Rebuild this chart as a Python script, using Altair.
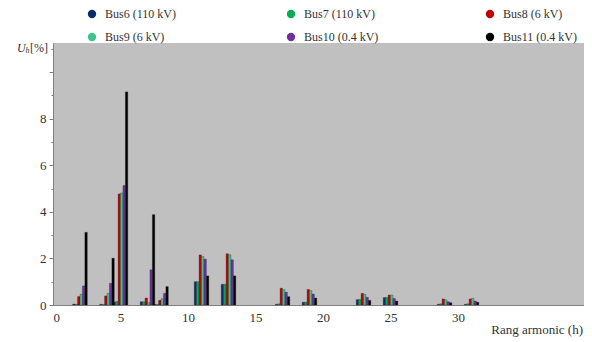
import altair as alt
import pandas as pd

harmonics = [2, 4, 5, 7, 8, 11, 13, 17, 19, 23, 25, 29, 31]
series = ["Bus6 (110 kV)", "Bus7 (110 kV)", "Bus8 (6 kV)",
          "Bus9 (6 kV)", "Bus10 (0.4 kV)", "Bus11 (0.4 kV)"]
colors = ["#0d2a6b", "#00b050", "#c00000", "#3cc48f", "#7030a0", "#000000"]

bus6 = [0.04, 0.03, 0.12, 0.14, 0.02, 1.00, 0.89, 0.03, 0.12, 0.23, 0.32, 0.03, 0.03]
bus7 = [0.03, 0.02, 0.15, 0.14, 0.02, 1.00, 0.89, 0.05, 0.12, 0.24, 0.32, 0.05, 0.05]
bus8 = [0.36, 0.39, 4.77, 0.30, 0.20, 2.15, 2.20, 0.72, 0.67, 0.50, 0.43, 0.26, 0.26]
bus9 = [0.46, 0.50, 4.81, 0.10, 0.27, 2.08, 2.16, 0.66, 0.62, 0.46, 0.43, 0.22, 0.29]
bus10 = [0.82, 0.93, 5.13, 1.51, 0.50, 1.97, 1.94, 0.55, 0.47, 0.33, 0.28, 0.14, 0.17]
bus11 = [3.12, 2.01, 9.15, 3.88, 0.79, 1.25, 1.25, 0.36, 0.30, 0.20, 0.17, 0.10, 0.12]

x_ticks = [0, 5, 10, 15, 20, 25, 30]
y_ticks = [i * 0.5 for i in range(0, 23)]

rows = []
for idx, (name, vals) in enumerate(zip(series, [bus6, bus7, bus8, bus9, bus10, bus11])):
    for h, v in zip(harmonics, vals):
        rows.append({"h": h, "bus": name, "idx": idx, "value": v})
df = pd.DataFrame(rows)

# legend is filled column by column: order so that rows read Bus6, Bus7, Bus8 / Bus9, Bus10, Bus11
legend_order = [0, 3, 1, 4, 2, 5]
leg_domain = [series[i] for i in legend_order]
leg_range = [colors[i] for i in legend_order]

FONT = "'Liberation Serif', 'Times New Roman', Times, serif"

bars = alt.Chart(df).transform_calculate(
    x1="datum.h + (datum.idx - 2.5) * 0.18 - 0.09",
    x2="datum.h + (datum.idx - 2.5) * 0.18 + 0.09",
).mark_rect(stroke="#222222", strokeWidth=0.3).encode(
    x=alt.X("x1:Q", scale=alt.Scale(domain=[0, 39.33], nice=False, zero=False),
            axis=alt.Axis(values=x_ticks, title=None, grid=False, domainColor="#808080",
                          tickSize=0, labelFont=FONT, labelFontSize=13,
                          labelColor="#333333", labelPadding=6, format="d")),
    x2="x2:Q",
    y=alt.Y("value:Q", scale=alt.Scale(domain=[0, 11.25], nice=False),
            axis=alt.Axis(values=y_ticks, title=None, grid=False, domainColor="#808080",
                          tickColor="#808080",
                          tickSize={"condition": {"test": "datum.value % 2 === 0", "value": 4}, "value": 2},
                          labelExpr="(datum.value % 2 === 0 && datum.value <= 8) ? datum.label : ''",
                          labelFont=FONT, labelFontSize=13, labelColor="#333333",
                          labelPadding=3, format="d")),
    y2=alt.datum(0),
    color=alt.Color("bus:N", scale=alt.Scale(domain=leg_domain, range=leg_range),
                    legend=alt.Legend(title=None, orient="none", legendX=33, legendY=-35,
                                      columns=3, columnPadding=105, rowPadding=11,
                                      gridAlign="all", symbolType="circle", symbolSize=70,
                                      symbolStrokeWidth=0, labelFont=FONT, labelFontSize=12,
                                      labelColor="#333333", labelOffset=7, padding=0)),
)

txt = pd.DataFrame({"t": ["x"]})
u_title = alt.Chart(txt).mark_text(font=FONT, fontSize=12, fontStyle="italic", align="left",
                                   color="#333333").encode(
    x=alt.value(-36), y=alt.value(5), text=alt.value("U"))
h_sub = alt.Chart(txt).mark_text(font=FONT, fontSize=8, fontStyle="italic", align="left",
                                 color="#333333").encode(
    x=alt.value(-27.5), y=alt.value(8), text=alt.value("h"))
pct = alt.Chart(txt).mark_text(font=FONT, fontSize=12, align="left",
                               color="#333333").encode(
    x=alt.value(-23), y=alt.value(5), text=alt.value("[%]"))
x_title = alt.Chart(txt).mark_text(font=FONT, fontSize=13, align="right",
                                   color="#333333").encode(
    x=alt.value(530), y=alt.value(287), text=alt.value("Rang armonic (h)"))

chart = alt.layer(bars, u_title, h_sub, pct, x_title).properties(
    width=531, height=262,
    autosize=alt.AutoSizeParams(type="none"),
    padding={"left": 45, "top": 35, "right": 0, "bottom": 34},
    background="white",
).configure_view(fill="#c0c0c0", stroke=None)

chart.save("out.html", embed_options={"renderer": "svg", "actions": False})
